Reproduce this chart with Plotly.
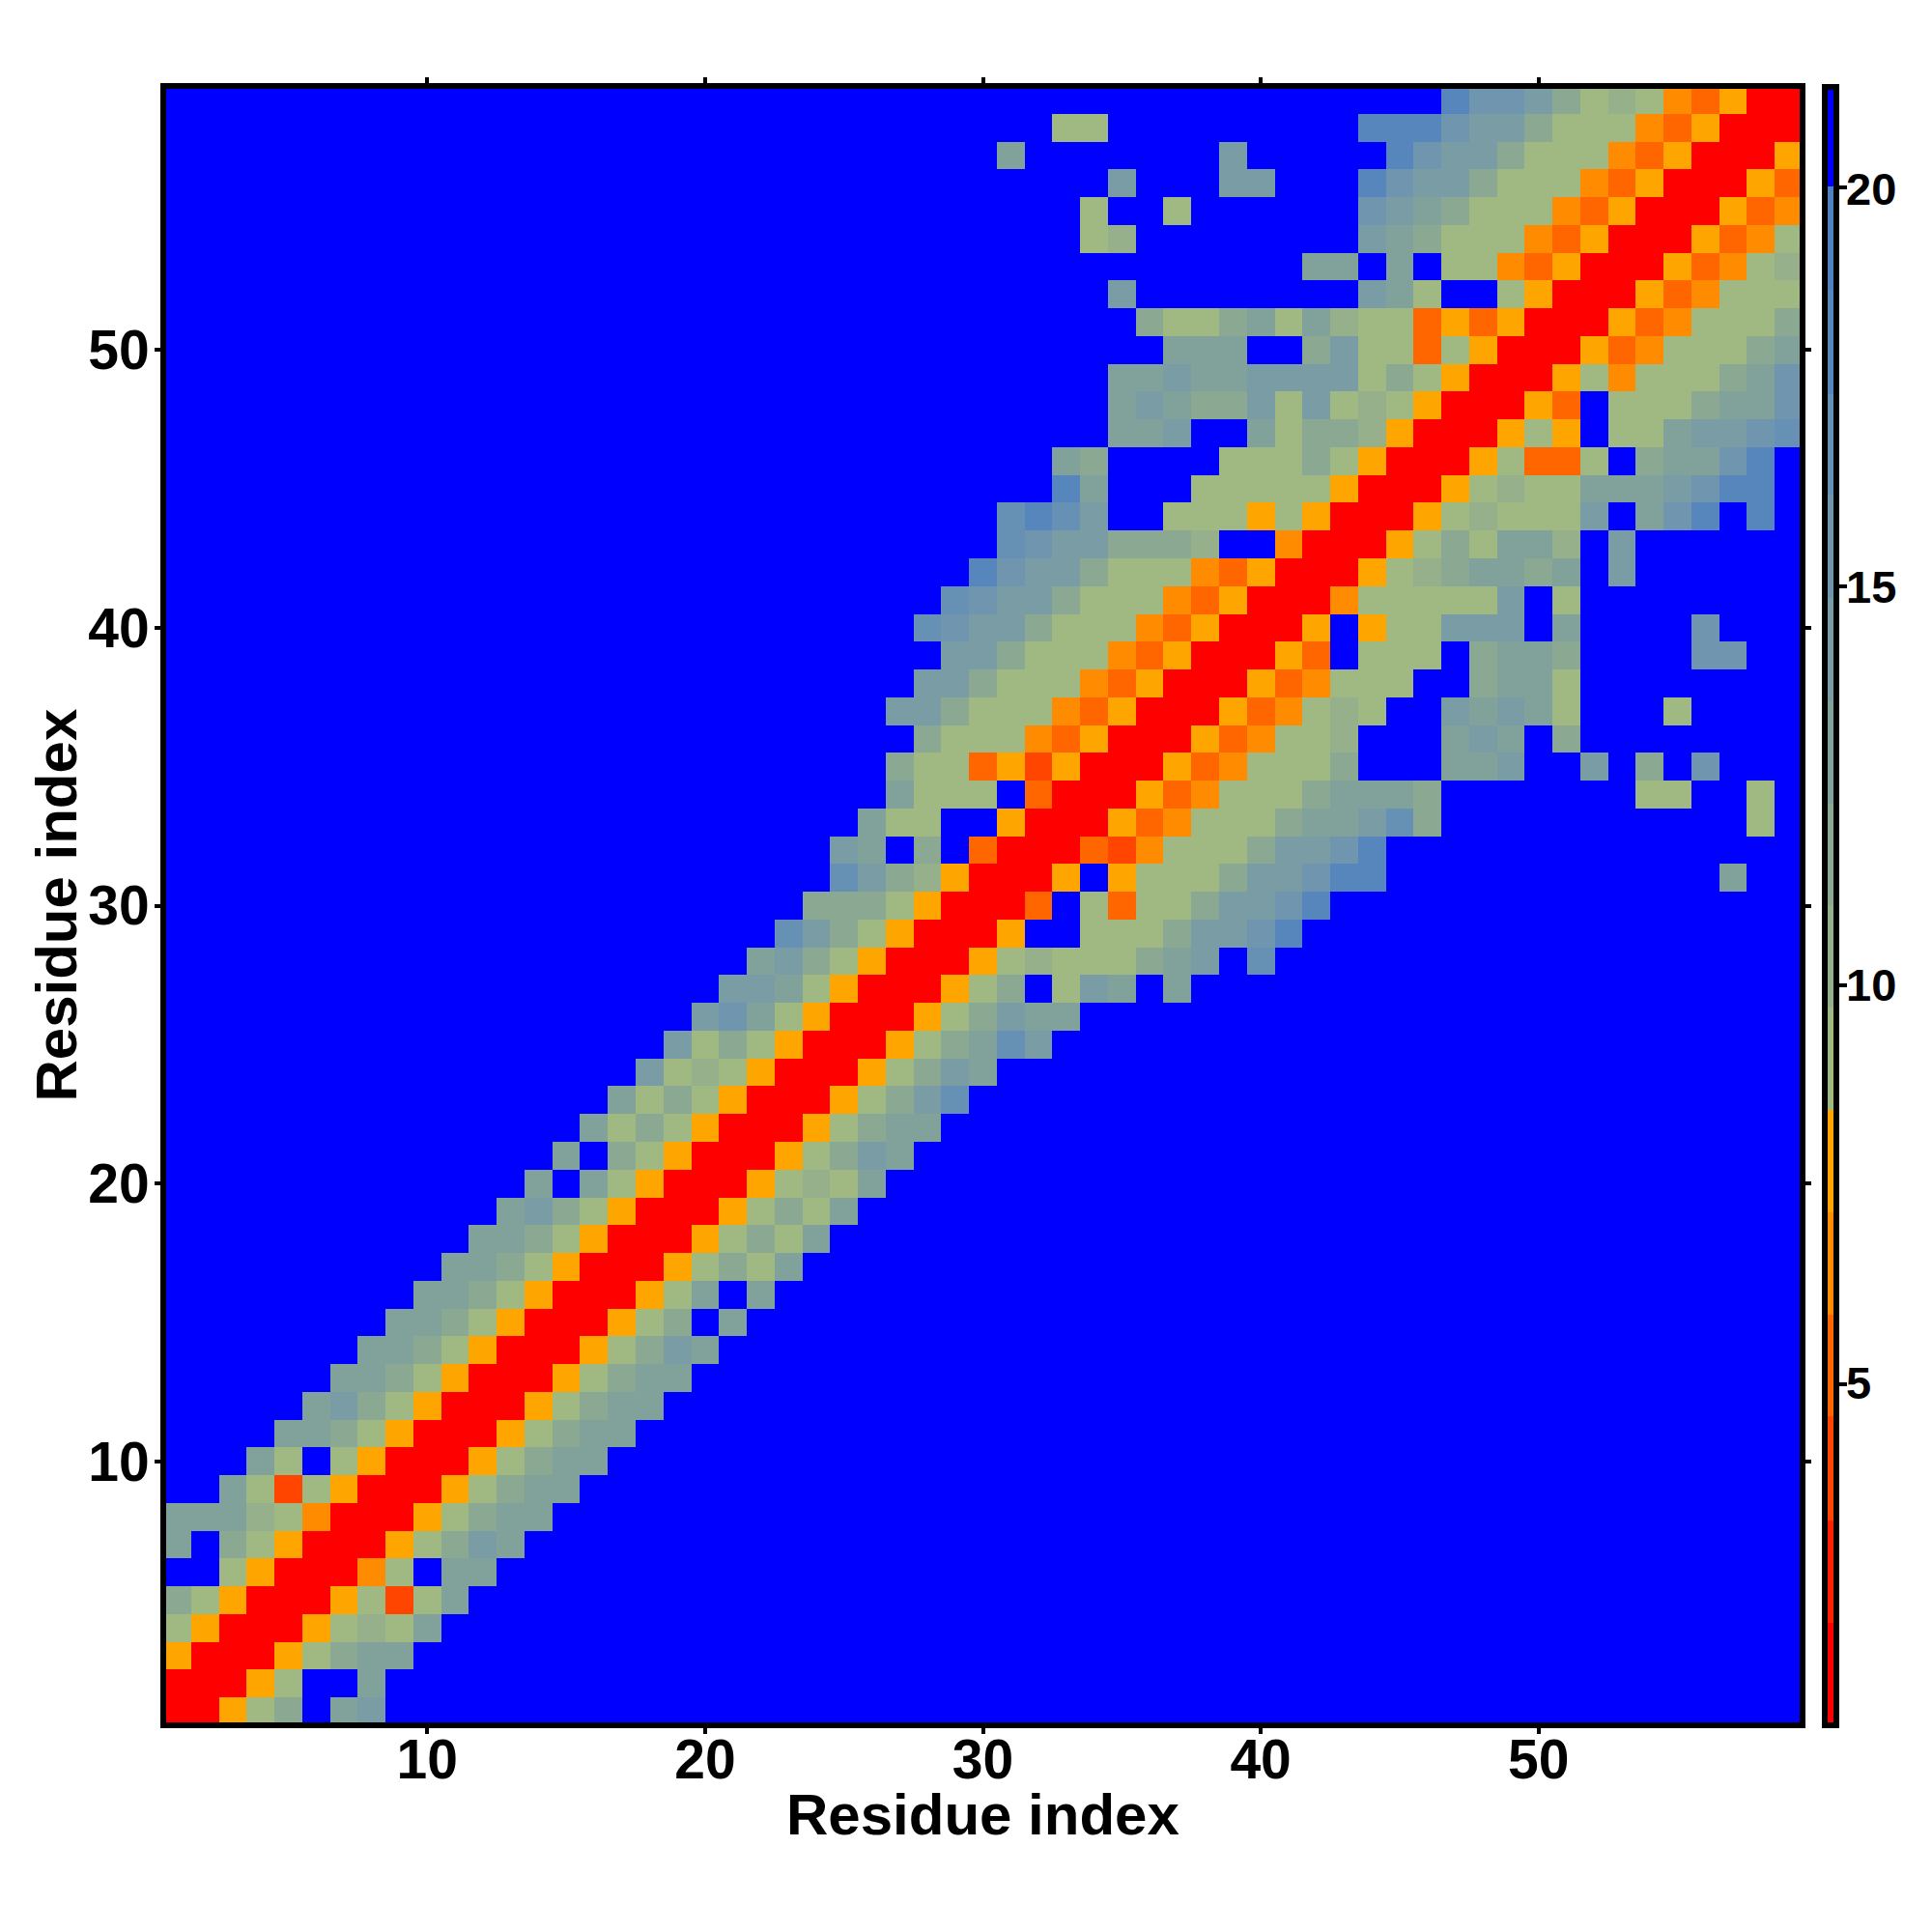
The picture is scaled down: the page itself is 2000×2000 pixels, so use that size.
import plotly.graph_objects as go

N_RESIDUES = 59
RESIDUES = list(range(1, N_RESIDUES + 1))

# Distance class per residue pair.
# row -> [(first column, class codes)], '.' = no contact
CONTACTS = {
    1: [(1, "RRO13.45")],
    2: [(1, "RRRO1..4")],
    3: [(1, "ORRRO1344")],
    4: [(1, "1ORRRO1214")],
    5: [(1, "31ORRRO1S14")],
    6: [(3, "1ORRRP1.44")],
    7: [(1, "4.31ORRRO1354")],
    8: [(1, "44421PRRRO1344")],
    9: [(3, "41S1ORRRO1344")],
    10: [(4, "41.1ORRRO1344")],
    11: [(5, "4431ORRRO1344")],
    12: [(6, "4531ORRRO1344")],
    13: [(7, "4431ORRRO1344")],
    14: [(8, "4431ORRRO1354")],
    15: [(9, "4431ORRRO13.4")],
    16: [(10, "4431ORRRO14.4")],
    17: [(11, "4431ORRRO1314")],
    18: [(12, "4431ORRRO1314")],
    19: [(13, "4531ORRRO1314")],
    20: [(14, "4.41ORRRO1214")],
    21: [(15, "4.31ORRRO1354")],
    22: [(16, "4131ORRRO1344")],
    23: [(17, "4131ORRRO1357")],
    24: [(18, "5121ORRRO1354")],
    25: [(19, "5131ORRRO13475")],
    26: [(20, "5641ORRRO13544")],
    27: [(21, "5541ORRRO13.154.4")],
    28: [(22, "4531ORRRO12111345.7")],
    29: [(23, "7531ORRRO..11135568")],
    30: [(24, "3331ORRRQ.1Q1135568")],
    31: [(25, "7532ORRRO.O111355688"), (57, "4")],
    32: [(25, "54.3.QRRRQSP11135568")],
    33: [(26, "411..ORRROQP111344573"), (58, "1")],
    34: [(27, "4111.QRRROQP11134443"), (54, "11"), (58, "1")],
    35: [(27, "311QOSORRROQP1113...445"), (52, "5"), (54, "3"), (56, "6")],
    36: [(28, "3111PQORRROQP112...454.3")],
    37: [(27, "553111PQORRROQP121..54541"), (55, "1")],
    38: [(28, "553111PQORRROQP111..3441")],
    39: [(29, "553111PQORRROQ.111.3443"), (56, "66")],
    40: [(28, "76553111PQORRRO.O11555.4"), (56, "6")],
    41: [(29, "76553111PQORRRP111115.1")],
    42: [(30, "86553111PQORRRO1234434.5")],
    43: [(31, "76553332..PRRRO131442.5")],
    44: [(31, "7875"), (37, "111O1ORRRO121115.468.8")],
    45: [(33, "84"), (38, "11111ORRRO12114445688")],
    46: [(33, "43"), (39, "11131ORRRO1QQ1.34468")],
    47: [(35, "445..41332ORRRO1O.1145567")],
    48: [(35, "45433515121ORRROQ.1113446")],
    49: [(35, "445445555131ORRRO1P111346")],
    50: [(37, "444"), (42, "3511Q1ORRROQP11134")],
    51: [(36, "3113414211QOQORRROQP1113")],
    52: [(35, "5"), (44, "541"), (49, "1ORRROQP111")],
    53: [(42, "44"), (45, "4"), (47, "11PQORRROQP12")],
    54: [(34, "12"), (44, "543111PQORRROQP1")],
    55: [(34, "1"), (37, "1"), (44, "6543111PQORRROQP")],
    56: [(35, "5"), (39, "55"), (44, "86553111PQORRROQ")],
    57: [(31, "4"), (39, "5"), (45, "86553111PQORRRO")],
    58: [(33, "11"), (44, "8886553111PQORRR")],
    59: [(47, "86653121PQORR")],
}

CODE_VALUES = {
    ".": 21.0, "R": 1.5, "S": 4.0, "Q": 5.2, "P": 6.5, "O": 7.8,
    "1": 9.1, "2": 10.3, "3": 11.6, "4": 12.9, "5": 14.2,
    "6": 15.5, "7": 16.8, "8": 18.0, "9": 19.4,
}

Z_MIN, Z_MAX = 0.73, 21.26
BIN_EDGES = [Z_MIN, 2.0, 3.29, 4.59, 5.86, 7.14, 8.43, 9.71, 10.99, 12.27,
             13.55, 14.85, 16.14, 17.4, 18.7, 20.0, Z_MAX]
BIN_COLORS = ["#ff0000", "#ff2000", "#ff4500", "#ff6600", "#ff8c00", "#ffa500",
              "#a0b982", "#95b08a", "#8aa892", "#80a29b", "#7a9ca5",
              "#6f96ae", "#6690b4", "#5686bb", "#4f80c0", "#0000ff"]
BAR_TICKS = [5, 10, 15, 20]
AXIS_TICKS = [10, 20, 30, 40, 50]
AXIS_TITLE = "Residue index"

matrix = [[CODE_VALUES["."] for _ in RESIDUES] for _ in RESIDUES]
for row, runs in CONTACTS.items():
    for first, codes in runs:
        for k, code in enumerate(codes):
            matrix[row - 1][first - 1 + k] = CODE_VALUES[code]

colorscale = []
for lo, hi, col in zip(BIN_EDGES[:-1], BIN_EDGES[1:], BIN_COLORS):
    colorscale.append([(lo - Z_MIN) / (Z_MAX - Z_MIN), col])
    colorscale.append([(hi - Z_MIN) / (Z_MAX - Z_MIN), col])

FONT = "Liberation Sans"

fig = go.Figure(go.Heatmap(
    x=RESIDUES, y=RESIDUES, z=matrix,
    zmin=Z_MIN, zmax=Z_MAX, colorscale=colorscale,
    colorbar=dict(
        x=1.0156, xanchor="left", xpad=0, y=0.5, yanchor="middle", ypad=0,
        len=1.003, thickness=12, outlinewidth=6, outlinecolor="black",
        tickvals=BAR_TICKS, ticks="outside", ticklen=8, tickwidth=4,
        tickcolor="black", showticklabels=False,
    ),
))

axis = dict(
    range=[0.604, 59.396], tickvals=AXIS_TICKS, ticks="outside", ticklen=6,
    tickwidth=4, tickcolor="black", showline=True, linewidth=6,
    linecolor="black", mirror="ticks", showgrid=False, zeroline=False,
    tickfont=dict(family=FONT, size=57, color="black", weight=700),
)
fig.update_xaxes(**axis, ticklabelstandoff=-22)
fig.update_yaxes(**axis, ticklabelstandoff=-6)

title_font = dict(family=FONT, size=60, color="black", weight=700)
fig.add_annotation(text=AXIS_TITLE, xref="paper", yref="paper", x=0.5, y=-0.0565,
                   xanchor="center", yanchor="middle", showarrow=False, font=title_font)
fig.add_annotation(text=AXIS_TITLE, xref="paper", yref="paper", x=-0.0674, y=0.5,
                   xanchor="center", yanchor="middle", showarrow=False, textangle=-90,
                   font=title_font)
for v in BAR_TICKS:
    fig.add_annotation(text=str(v), xref="paper", yref="paper", x=1.0272,
                       y=(v - Z_MIN) / (Z_MAX - Z_MIN), xanchor="left", yanchor="middle",
                       showarrow=False,
                       font=dict(family=FONT, size=47, color="black", weight=700))

fig.update_layout(
    width=2000, height=2000, paper_bgcolor="white", plot_bgcolor="white",
    margin=dict(l=163.5, r=145, t=84, b=225),
)
fig.write_html("out.html")
